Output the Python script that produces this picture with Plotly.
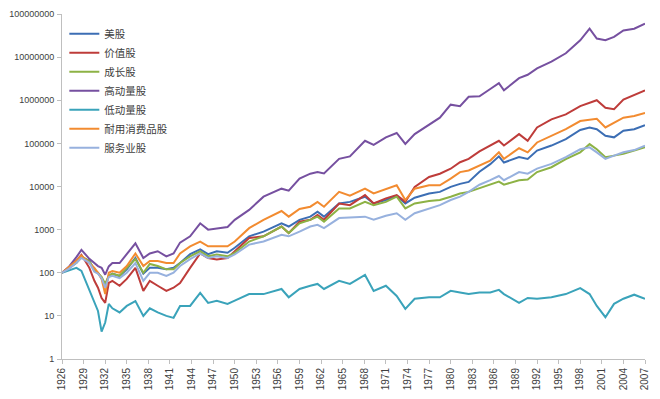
import plotly.graph_objects as go

years = [1926, 1927, 1928, 1928.7, 1929.8, 1930.5, 1931.0, 1931.5, 1932.0, 1932.5,
         1933.0, 1934.0, 1935.0, 1936.2, 1937.3, 1938.2, 1939.3, 1940.5, 1941.5, 1942.4,
         1943.8, 1945.2, 1946.3, 1947.5, 1949.0, 1950.0, 1952.0, 1954.0, 1956.5, 1957.5,
         1959.0, 1960.5, 1961.5, 1962.4, 1964.5, 1966.0, 1968.1, 1969.3, 1971.0, 1972.5,
         1973.7, 1975.0, 1977.0, 1978.5, 1980.0, 1981.3, 1982.5, 1984.0, 1985.5, 1986.7,
         1987.4, 1989.5, 1990.7, 1992.0, 1994.0, 1996.0, 1998.0, 1999.3, 2000.3, 2001.5,
         2002.7, 2004.0, 2005.5, 2007.0]

us_market = [100, 130, 170, 230, 190, 110, 100, 75, 50, 84,
             95, 84, 120, 220, 95, 130, 130, 120, 130, 168,
             270, 350, 270, 315, 290, 380, 700, 900, 1400, 1180,
             1690, 2000, 2600, 2000, 4040, 4400, 5800, 4040, 4850, 6100,
             4040, 5500, 6900, 7500, 9800, 11500, 12800, 22000, 33000, 50000,
             36000, 48000, 43700, 68000, 89000, 125000, 205000, 234000, 213000, 150000,
             138000, 196000, 213000, 264000]

value_stocks = [100, 130, 190, 260, 130, 65, 45, 26, 20, 58,
                65, 50, 72, 130, 38, 65, 50, 38, 45, 58,
                130, 280, 220, 204, 220, 315, 640, 700, 1180, 830,
                1530, 1690, 2200, 1690, 4040, 3700, 6300, 4040, 5300, 6300,
                4400, 9800, 16600, 19800, 25800, 36500, 43700, 65000, 89000, 115000,
                89000, 164000, 115000, 234000, 360000, 470000, 730000, 870000, 1000000, 670000,
                620000, 1040000, 1340000, 1700000]

growth_stocks = [100, 130, 170, 240, 185, 120, 100, 80, 55, 85,
                 95, 85, 130, 207, 100, 160, 143, 120, 120, 168,
                 240, 315, 240, 265, 240, 290, 530, 700, 1180, 830,
                 1400, 1690, 2000, 1530, 3100, 3100, 4400, 3700, 4400, 5800,
                 3100, 4040, 4600, 4850, 5800, 6900, 7500, 9000, 11000, 13000,
                 11000, 14000, 14500, 21600, 28000, 43000, 62000, 96000, 73000, 48000,
                 52000, 57000, 68000, 81000]

high_momentum = [100, 140, 230, 340, 210, 165, 143, 130, 90, 140,
                 168, 168, 270, 480, 220, 280, 315, 240, 280, 500,
                 700, 1400, 1000, 1080, 1150, 1690, 2860, 5800, 8900, 8000,
                 15200, 19800, 21600, 20000, 43700, 50000, 115000, 92000, 138000, 174000,
                 97000, 164000, 275000, 395000, 790000, 730000, 1200000, 1230000, 1820000, 2500000,
                 1700000, 3250000, 3900000, 5500000, 7900000, 12300000, 24600000, 45600000, 27000000, 24600000,
                 29500000, 41600000, 45600000, 59600000]

low_momentum = [100, 115, 130, 110, 38, 19, 13, 4.3, 7, 19,
                15, 12, 17, 22, 10, 15, 12, 10, 9, 17,
                17, 34, 20, 22.5, 19, 22.5, 32, 32, 42, 27,
                42, 50, 55, 42, 65, 55, 89, 38, 50, 29,
                14.5, 25, 27, 27, 38, 35, 32, 35, 35, 40,
                32, 20, 26, 25, 27, 32, 44, 32, 17, 9.3,
                19, 25, 31, 25]

durables = [100, 135, 190, 250, 165, 130, 100, 72, 32, 100,
            110, 100, 143, 280, 143, 187, 187, 168, 168, 280,
            410, 530, 410, 410, 410, 530, 1080, 1690, 2700, 2000,
            3000, 3400, 4400, 3400, 7500, 6100, 8900, 6900, 8900, 10700,
            4850, 8900, 10700, 10700, 15200, 21600, 23500, 30000, 40000, 62000,
            43700, 77000, 62000, 105000, 150000, 213000, 330000, 360000, 370000, 234000,
            300000, 395000, 430000, 510000]

services = [100, 125, 170, 220, 170, 105, 95, 75, 45, 80,
            85, 75, 100, 168, 65, 100, 100, 84, 100, 143,
            207, 280, 220, 240, 220, 265, 450, 530, 760, 700,
            900, 1180, 1290, 1080, 1850, 1900, 2000, 1690, 2100, 2400,
            1690, 2400, 3100, 3700, 4850, 5800, 7500, 11000, 14000, 17500,
            14000, 21600, 19800, 26000, 33500, 48000, 73000, 81000, 62000, 43700,
            52000, 62000, 70000, 89000]

series_names = ["美股", "价值股", "成长股", "高动量股", "低动量股", "耐用消费品股", "服务业股"]
series_values = [us_market, value_stocks, growth_stocks, high_momentum,
                 low_momentum, durables, services]
colors = ["#3C6EB4", "#BE3C3A", "#8DB245", "#7650A0", "#3AA3BA", "#F28B30", "#97B1DE"]

x_ticks = list(range(1926, 2008, 3))
y_ticks = [1, 10, 100, 1000, 10000, 100000, 1000000, 10000000, 100000000]

fig = go.Figure()
for name, vals, col in zip(series_names, series_values, colors):
    fig.add_trace(go.Scatter(x=years, y=vals, name=name, mode="lines",
                             line=dict(color=col, width=2)))

font_family = "Liberation Sans, Noto Sans CJK SC, sans-serif"
# page body has an 8px default margin, so the figure is sized to fit the window
fig.update_layout(
    width=652, height=391,
    margin=dict(l=54, r=15, t=6, b=40),
    paper_bgcolor="white", plot_bgcolor="white",
    font=dict(family=font_family, size=11, color="#404040"),
    showlegend=True,
    legend=dict(x=0.004, y=0.985, xanchor="left", yanchor="top",
                bgcolor="rgba(0,0,0,0)", font=dict(size=10.5, color="#404040"),
                tracegroupgap=0),
)
fig.update_xaxes(range=[1926, 2007], tickmode="array", tickvals=x_ticks,
                 ticktext=[str(t) for t in x_ticks], tickangle=-90, automargin=False,
                 ticklabeloverflow="allow",
                 showgrid=False, zeroline=False, showline=True, linecolor="#BFBFBF",
                 linewidth=1, ticks="outside", ticklen=4, tickcolor="#BFBFBF",
                 tickfont=dict(size=10))
fig.update_yaxes(type="log", range=[0, 8], tickmode="array", tickvals=y_ticks,
                 ticktext=[str(t) for t in y_ticks], automargin=False,
                 ticklabeloverflow="allow", ticklabelstandoff=1,
                 showgrid=False, zeroline=False, showline=True, linecolor="#BFBFBF",
                 linewidth=1, ticks="outside", ticklen=4, tickcolor="#BFBFBF",
                 tickfont=dict(size=9))

fig.write_html("out.html")
